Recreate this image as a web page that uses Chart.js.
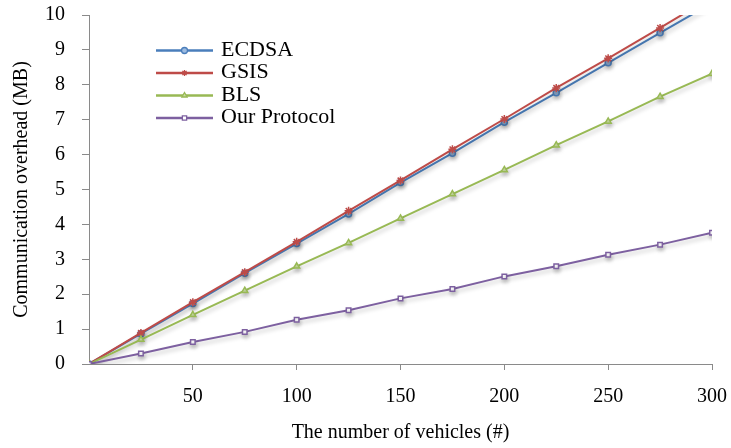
<!DOCTYPE html>
<html>
<head>
<meta charset="utf-8">
<script src="https://cdn.jsdelivr.net/npm/chart.js@4"></script>
<style>
html,body{margin:0;padding:0;background:#fff;}
#wrap{width:731px;height:448px;}
</style>
</head>
<body>
<div id="wrap"><canvas id="c" width="731" height="448"></canvas></div>
<script>
const vehicles = [0, 25, 50, 75, 100, 125, 150, 175, 200, 225, 250, 275, 300];
const ecdsa    = [0, 0.87, 1.73, 2.60, 3.45, 4.30, 5.20, 6.04, 6.93, 7.77, 8.63, 9.49, 10.34];
const gsis     = [0, 0.89, 1.77, 2.63, 3.50, 4.39, 5.26, 6.15, 7.02, 7.91, 8.76, 9.63, 10.52];
const bls      = [0, 0.70, 1.41, 2.10, 2.80, 3.47, 4.17, 4.87, 5.56, 6.27, 6.95, 7.66, 8.32];
const ours     = [0, 0.30, 0.63, 0.92, 1.27, 1.54, 1.88, 2.15, 2.51, 2.80, 3.13, 3.42, 3.76];
const seriesNames = ['ECDSA', 'GSIS', 'BLS', 'Our Protocol'];
const xTicks = [50, 100, 150, 200, 250, 300];
const yTicks = [0, 1, 2, 3, 4, 5, 6, 7, 8, 9, 10];
const xTitle = 'The number of vehicles (#)';
const yTitle = 'Communication overhead (MB)';

const pts = arr => vehicles.map((v, i) => ({x: v, y: arr[i]}));
const FONT = '"Liberation Serif", "Times New Roman", serif';
const AXIS = '#8a8a8a';

const styles = [
  {color: '#4a7ebb', fill: '#9dbbe0', shape: 'circle', r: 3},
  {color: '#be4b48', fill: '#be4b48', shape: 'star', r: 4},
  {color: '#98b954', fill: '#c9dca3', shape: 'triangle', r: 3.5},
  {color: '#7d60a0', fill: '#ffffff', shape: 'rect', r: 3.2}
];
const allData = [ecdsa, gsis, bls, ours];

const datasets = allData.map((arr, i) => ({
  label: seriesNames[i],
  data: pts(arr),
  borderColor: styles[i].color,
  backgroundColor: styles[i].fill,
  pointBorderColor: styles[i].color,
  pointBackgroundColor: styles[i].fill,
  pointStyle: styles[i].shape,
  pointRadius: styles[i].r,
  pointBorderWidth: 1.5,
  borderWidth: 2,
  tension: 0,
  fill: false
})).reverse();

const shadowPlugin = {
  id: 'shadow',
  beforeDatasetsDraw(chart) {
    const ctx = chart.ctx;
    ctx.save();
    ctx.shadowColor = 'rgba(0,0,0,0.22)';
    ctx.shadowBlur = 4;
    ctx.shadowOffsetX = 1;
    ctx.shadowOffsetY = 3;
  },
  afterDatasetsDraw(chart) { chart.ctx.restore(); }
};

const legendPlugin = {
  id: 'lineLegend',
  afterDraw(chart) {
    const ctx = chart.ctx;
    const a = chart.chartArea;
    const x0 = a.left + 67, x1 = a.left + 124, tx = a.left + 132;
    let y = a.top + 35.5;
    ctx.save();
    seriesNames.forEach((name, i) => {
      const s = styles[i];
      ctx.strokeStyle = s.color;
      ctx.lineWidth = 2.5;
      ctx.beginPath(); ctx.moveTo(x0, y); ctx.lineTo(x1, y); ctx.stroke();
      ctx.fillStyle = s.fill;
      ctx.strokeStyle = s.color;
      ctx.lineWidth = 1.3;
      Chart.helpers.drawPoint(ctx, {pointStyle: s.shape, radius: 3, borderWidth: 1.3}, (x0 + x1) / 2, y);
      ctx.fillStyle = '#000';
      ctx.font = '20px ' + FONT;
      ctx.textBaseline = 'middle';
      ctx.textAlign = 'left';
      ctx.save();
      ctx.translate(tx, y);
      ctx.scale(1.1, 1);
      ctx.fillText(name, 0, 0);
      ctx.restore();
      y += 22.5;
    });
    ctx.restore();
  }
};

new Chart(document.getElementById('c'), {
  type: 'line',
  data: {datasets},
  options: {
    responsive: false,
    animation: false,
    devicePixelRatio: 1,
    layout: {padding: {top: 15, right: 19, bottom: 0, left: 0}},
    plugins: {legend: {display: false}, tooltip: {enabled: false}},
    scales: {
      x: {
        type: 'linear', min: 0, max: 300,
        afterBuildTicks: s => { s.ticks = [0].concat(xTicks).map(v => ({value: v})); },
        afterFit: s => { s.height = 84; s.paddingLeft = 0; s.paddingRight = 0; },
        ticks: {
          color: '#000', font: {family: FONT, size: 20}, padding: 15,
          maxRotation: 0, autoSkip: false,
          callback: v => (v === 0 ? '' : String(v))
        },
        grid: {
          drawOnChartArea: false, drawTicks: true, tickLength: 6,
          color: ctx => (ctx.tick && ctx.tick.value === 0 ? 'rgba(0,0,0,0)' : AXIS)
        },
        border: {color: AXIS, width: 1},
        title: {display: true, text: xTitle, color: '#000', font: {family: FONT, size: 20}, padding: {top: 0, bottom: 3}}
      },
      y: {
        min: 0, max: 10,
        afterBuildTicks: s => { s.ticks = yTicks.map(v => ({value: v})); },
        afterFit: s => { s.width = 89; s.paddingTop = 0; s.paddingBottom = 0; },
        ticks: {color: '#000', font: {family: FONT, size: 20}, padding: 17},
        grid: {drawOnChartArea: false, drawTicks: true, tickLength: 7, color: AXIS},
        border: {color: AXIS, width: 1},
        title: {display: true, text: yTitle, color: '#000', font: {family: FONT, size: 20}, padding: {top: 10, bottom: 0}}
      }
    }
  },
  plugins: [shadowPlugin, legendPlugin]
});
</script>
</body>
</html>
